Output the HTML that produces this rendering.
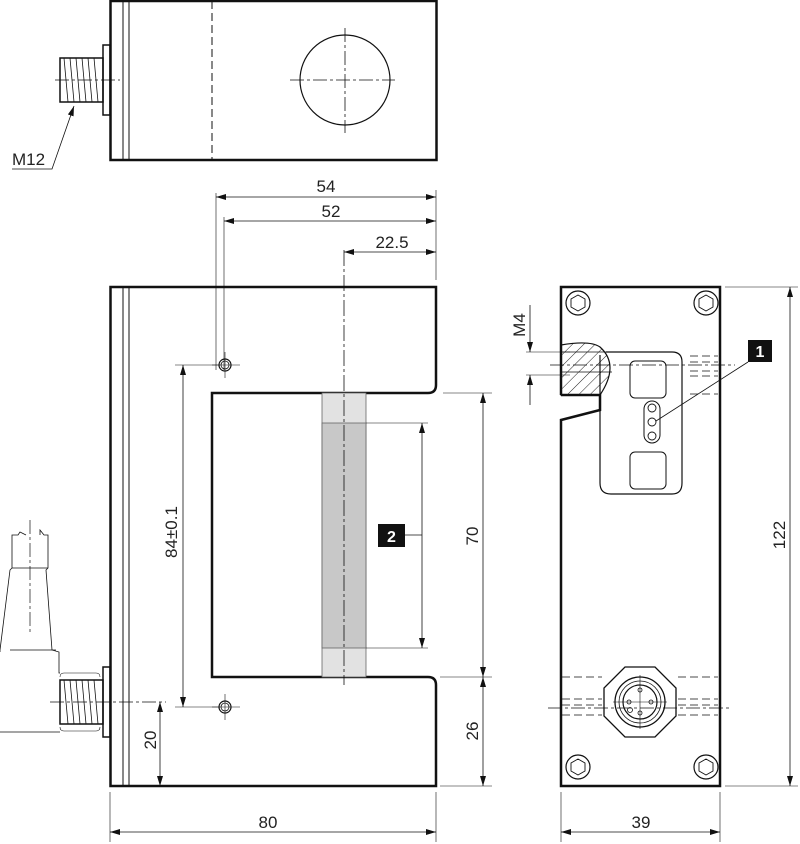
<!DOCTYPE html>
<html><head><meta charset="utf-8"><style>html,body{margin:0;padding:0;background:#fff}svg{display:block}text{font-family:"Liberation Sans",sans-serif;fill:#222}</style></head><body>
<svg width="800" height="844" viewBox="0 0 800 844" xmlns="http://www.w3.org/2000/svg">
<defs>
<marker id="a" viewBox="0 0 10 6" refX="10" refY="3" markerWidth="10" markerHeight="6" orient="auto-start-reverse" markerUnits="userSpaceOnUse"><path d="M0,0L10,3L0,6z" fill="#111"/></marker>
<pattern id="h" width="8" height="8" patternUnits="userSpaceOnUse" patternTransform="rotate(45)"><line x1="0" y1="0" x2="0" y2="8" stroke="#222" stroke-width="1"/></pattern>
</defs>
<g fill="none" stroke="#111">
<!-- top view -->
<rect x="110.5" y="1" width="326" height="159" stroke-width="2.5"/>
<line x1="123" y1="1" x2="123" y2="160" stroke-width="1"/>
<line x1="129" y1="1" x2="129" y2="160" stroke-width="1"/>
<line x1="212" y1="1" x2="212" y2="160" stroke-width="1" stroke-dasharray="8,4"/>
<circle cx="345" cy="80" r="45" stroke-width="1.2"/>
<line x1="290" y1="80" x2="395" y2="80" stroke-width="0.8" stroke-dasharray="14,3,3,3"/>
<line x1="345" y1="28" x2="345" y2="133" stroke-width="0.8" stroke-dasharray="14,3,3,3"/>
<rect x="103" y="45" width="7" height="70" stroke-width="1.5"/>
<rect x="60" y="58" width="43" height="44" stroke-width="1.5"/>
<path d="M64,58L68,102M70,58L74,102M76,58L80,102M82,58L86,102M88,58L92,102M94,58L98,102" stroke-width="0.8"/>
<line x1="55" y1="80" x2="120" y2="80" stroke-width="0.8" stroke-dasharray="14,3,3,3"/>
<path d="M12,169H52L74,106" stroke-width="0.8" marker-end="url(#a)"/>
<!-- front view -->
<path d="M110.5,287H436V385Q436,393 428,393H212V677H428Q436,677 436,685V786H110.5Z" stroke-width="2.5"/>
<line x1="123" y1="287" x2="123" y2="786" stroke-width="1"/>
<line x1="129" y1="287" x2="129" y2="786" stroke-width="1"/>
<rect x="322" y="393" width="44" height="284" fill="#e2e2e2" stroke="#666" stroke-width="0.8"/>
<rect x="322" y="423" width="44" height="225" fill="#c8c8c8" stroke="#666" stroke-width="0.8"/>
<line x1="344" y1="250" x2="344" y2="685" stroke-width="0.8" stroke-dasharray="16,3,3,3"/>
<circle cx="225" cy="365" r="6" stroke-width="1.2"/><circle cx="225" cy="365" r="4" stroke-width="0.8"/>
<circle cx="225" cy="707" r="6" stroke-width="1.2"/><circle cx="225" cy="707" r="4" stroke-width="0.8"/>
<path d="M225,352V378M212,365H240M225,694V720M212,707H240" stroke-width="0.6"/>
<path d="M175,365H220M175,707H220" stroke-width="0.6"/>
<line x1="183" y1="365" x2="183" y2="707" stroke-width="0.8" marker-start="url(#a)" marker-end="url(#a)"/>
<line x1="160" y1="702" x2="160" y2="786" stroke-width="0.8" marker-start="url(#a)" marker-end="url(#a)"/>
<line x1="50" y1="702" x2="166" y2="702" stroke-width="0.8" stroke-dasharray="14,3,3,3"/>
<path d="M366,423H428M366,648H428" stroke-width="0.6"/>
<line x1="422" y1="423" x2="422" y2="648" stroke-width="0.8" marker-start="url(#a)" marker-end="url(#a)"/>
<line x1="405" y1="535" x2="422" y2="535" stroke-width="0.8"/>
<path d="M443,393H492M440,677H492M440,786H492" stroke-width="0.6"/>
<line x1="483" y1="393" x2="483" y2="677" stroke-width="0.8" marker-start="url(#a)" marker-end="url(#a)"/>
<line x1="483" y1="677" x2="483" y2="786" stroke-width="0.8" marker-start="url(#a)" marker-end="url(#a)"/>
<path d="M216,193V370M224,217V370M436,190V280" stroke-width="0.6"/>
<line x1="216" y1="197" x2="436" y2="197" stroke-width="0.8" marker-start="url(#a)" marker-end="url(#a)"/>
<line x1="224" y1="221" x2="436" y2="221" stroke-width="0.8" marker-start="url(#a)" marker-end="url(#a)"/>
<line x1="344" y1="252" x2="436" y2="252" stroke-width="0.8" marker-start="url(#a)" marker-end="url(#a)"/>
<path d="M110,792V842M436,792V842M561,792V842M720,792V842" stroke-width="0.6"/>
<line x1="110" y1="832" x2="436" y2="832" stroke-width="0.8" marker-start="url(#a)" marker-end="url(#a)"/>
<line x1="561" y1="832" x2="720" y2="832" stroke-width="0.8" marker-start="url(#a)" marker-end="url(#a)"/>
<!-- left cable connector -->
<rect x="103" y="667" width="7" height="70" stroke-width="1.5"/>
<rect x="60" y="680" width="43" height="44" stroke-width="1.5"/>
<path d="M64,680L68,724M70,680L74,724M76,680L80,724M82,680L86,724M88,680L92,724M94,680L98,724" stroke-width="0.8"/>
<path d="M60,677Q60,673 64,673H96Q100,673 100,677M60,727Q60,731 64,731H96Q100,731 100,727" stroke-width="0.6"/>
<path d="M60,732H0M60,673H59V652L52,650L46,570L48,568V535L44,535L40,530L40,535M0,652V650L10,570L12,568V535L18,535L20,532L26,535" stroke-width="0.8"/>
<path d="M12,568H48M10,650H56" stroke-width="0.8"/>
<line x1="30" y1="520" x2="30" y2="635" stroke-width="0.7" stroke-dasharray="14,3,3,3"/>
<!-- side view -->
<path d="M561,340V287H720V786H561V420L600,410V395L561,395" stroke-width="2.5"/>
<line x1="561" y1="340" x2="561" y2="395" stroke-width="2.5"/>
<path d="M561,345Q590,340 600,347Q620,365 600,395L561,395Z" fill="url(#h)" stroke-width="1.2"/>
<path d="M561,352H608M561,372H612" stroke-width="0.8"/>
<path d="M600,355V483Q600,494 611,494H672Q682,494 682,483V362Q682,352 672,352H606" stroke-width="1.2"/>
<rect x="630" y="361" width="36" height="37" rx="5" stroke-width="1"/>
<rect x="630" y="452" width="36" height="37" rx="5" stroke-width="1"/>
<rect x="644" y="401" width="16" height="42" rx="8" stroke-width="1"/>
<circle cx="652" cy="408" r="4" stroke-width="0.9"/><circle cx="652" cy="422" r="4" stroke-width="0.9"/><circle cx="652" cy="436" r="4" stroke-width="0.9"/>
<path d="M690,356H718M690,362H718M690,371H718M690,376H718M690,394H718" stroke-width="0.7" stroke-dasharray="8,4"/>
<line x1="550" y1="365" x2="735" y2="365" stroke-width="0.7" stroke-dasharray="14,3,3,3"/>
<path d="M526,352H570M526,375H570" stroke-width="0.6"/>
<line x1="530" y1="305" x2="530" y2="352" stroke-width="0.8" marker-end="url(#a)"/>
<line x1="530" y1="405" x2="530" y2="375" stroke-width="0.8" marker-end="url(#a)"/>
<line x1="748" y1="362" x2="656" y2="421" stroke-width="0.8"/>
<g stroke-width="1.2">
<circle cx="578" cy="303" r="12"/><circle cx="706" cy="303" r="12"/><circle cx="578" cy="767" r="12"/><circle cx="706" cy="767" r="12"/>
</g>
<g stroke-width="0.9">
<path d="M578,295L585,299V307L578,311L571,307V299Z"/><path d="M706,295L713,299V307L706,311L699,307V299Z"/>
<path d="M578,759L585,763V771L578,775L571,771V763Z"/><path d="M706,759L713,763V771L706,775L699,771V763Z"/>
</g>
<path d="M625,667H655L676,688V716L655,737H625L604,716V688Z" stroke-width="1.3"/>
<circle cx="640" cy="702" r="25" stroke-width="1.3"/><circle cx="640" cy="702" r="21" stroke-width="0.8"/><circle cx="640" cy="702" r="17" stroke-width="1.2"/>
<g stroke-width="0.8"><circle cx="640" cy="690" r="2"/><circle cx="629" cy="702" r="2"/><circle cx="651" cy="702" r="2"/><circle cx="640" cy="713" r="2"/><circle cx="630" cy="710" r="2.5"/></g>
<path d="M640,675V729M613,702H667" stroke-width="0.6"/>
<path d="M562,677H602M678,677H718M562,699H602M678,699H718M562,705H602M678,705H718M562,715H602M678,715H718" stroke-width="0.7" stroke-dasharray="8,4"/>
<line x1="548" y1="708" x2="730" y2="708" stroke-width="0.7" stroke-dasharray="14,3,3,3"/>
<path d="M725,287H798M725,786H798" stroke-width="0.6"/>
<line x1="790" y1="287" x2="790" y2="786" stroke-width="0.8" marker-start="url(#a)" marker-end="url(#a)"/>
</g>
<rect x="378" y="524" width="27" height="23" fill="#111"/>
<text x="391.5" y="542" font-size="16" font-weight="bold" text-anchor="middle" style="fill:#fff">2</text>
<rect x="748" y="340" width="24" height="22" fill="#111"/>
<text x="760" y="357" font-size="16" font-weight="bold" text-anchor="middle" style="fill:#fff">1</text>
<g font-size="17">
<text x="12" y="165">M12</text>
<text x="326" y="192" text-anchor="middle">54</text>
<text x="331" y="217" text-anchor="middle">52</text>
<text x="392" y="248" text-anchor="middle">22.5</text>
<text x="268" y="828" text-anchor="middle">80</text>
<text x="641" y="828" text-anchor="middle">39</text>
<text transform="translate(177,532) rotate(-90)" text-anchor="middle">84±0.1</text>
<text transform="translate(156,740) rotate(-90)" text-anchor="middle">20</text>
<text transform="translate(478,536) rotate(-90)" text-anchor="middle">70</text>
<text transform="translate(478,731) rotate(-90)" text-anchor="middle">26</text>
<text transform="translate(785,535) rotate(-90)" text-anchor="middle">122</text>
<text transform="translate(525,325) rotate(-90)" text-anchor="middle">M4</text>
</g>
</svg>
</body></html>
